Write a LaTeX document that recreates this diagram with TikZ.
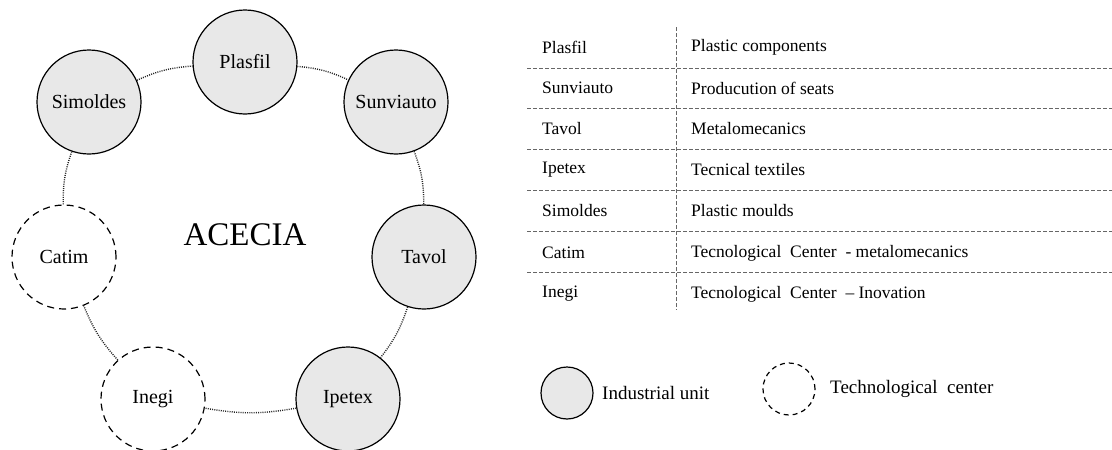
\documentclass[tikz,border=0pt]{standalone}
\usepackage{fontspec}
\setmainfont{Liberation Serif}
\begin{document}
\begin{tikzpicture}[x=1pt,y=-1pt,
  unit/.style={circle,draw=black,line width=1.2pt,fill=gray!18,minimum size=104pt,inner sep=0pt,font=\fontsize{20}{24}\selectfont},
  tech/.style={circle,draw=black,line width=1.2pt,dash pattern=on 7pt off 5pt,minimum size=104pt,inner sep=0pt,font=\fontsize{20}{24}\selectfont},
  link/.style={line width=1.4pt,dash pattern=on 1pt off 1.2pt,draw=black!85},
  rowtxt/.style={anchor=west,inner sep=0pt,font=\fontsize{17.5}{20}\selectfont},
  sep/.style={draw=gray!80!black,line width=1pt,dash pattern=on 4pt off 2pt},
  lunit/.style={circle,draw=black,line width=1.2pt,fill=gray!18,minimum size=52pt,inner sep=0pt},
  ltech/.style={circle,draw=black,line width=1.2pt,dash pattern=on 5pt off 4pt,minimum size=52pt,inner sep=0pt},
  ltxt/.style={anchor=west,inner sep=0pt,font=\fontsize{19}{22}\selectfont}]
\useasboundingbox (0,0) rectangle (1112,450);
% circle nodes
\node[unit] (plasfil) at (245,62) {Plasfil};
\node[unit] (sunviauto) at (396,102) {Sunviauto};
\node[unit] (tavol) at (424,257) {Tavol};
\node[unit] (ipetex) at (348,399) {Ipetex};
\node[tech] (inegi) at (153,399) {Inegi};
\node[tech] (catim) at (64,257) {Catim};
\node[unit] (simoldes) at (89,102) {Simoldes};
\node[font=\fontsize{33}{38}\selectfont] (acecia) at (245,235) {ACECIA};
% connectors
\draw[link] (plasfil) to[bend left=10] (sunviauto);
\draw[link] (sunviauto) to[bend left=10] (tavol);
\draw[link] (tavol) to[bend left=10] (ipetex);
\draw[link] (ipetex) to[bend left=10] (inegi);
\draw[link] (inegi) to[bend left=10] (catim);
\draw[link] (catim) to[bend left=10] (simoldes);
\draw[link] (simoldes) to[bend left=10] (plasfil);
% table
\coordinate (vtop) at (676,27);
\coordinate (vbot) at (676,310);
\draw[sep] (vtop) -- (vbot);
\foreach \yy/\nm in {68/h1,108/h2,149/h3,190/h4,231/h5,272/h6}{
  \coordinate (\nm a) at (527,\yy);
  \coordinate (\nm b) at (1112,\yy);
  \draw[sep] (\nm a) -- (\nm b);
}
\node[rowtxt] (t1a) at (542,47) {Plasfil};
\node[rowtxt] (t1b) at (691,47) {Plastic components};
\node[rowtxt] (t2a) at (542,88) {Sunviauto};
\node[rowtxt] (t2b) at (691,88) {Producution of seats};
\node[rowtxt] (t3a) at (542,129) {Tavol};
\node[rowtxt] (t3b) at (691,129) {Metalomecanics};
\node[rowtxt] (t4a) at (542,170) {Ipetex};
\node[rowtxt] (t4b) at (691,170) {Tecnical textiles};
\node[rowtxt] (t5a) at (542,211) {Simoldes};
\node[rowtxt] (t5b) at (691,211) {Plastic moulds};
\node[rowtxt] (t6a) at (542,253) {Catim};
\node[rowtxt] (t6b) at (691,253) {Tecnological\ \ Center\ \ -\ metalomecanics};
\node[rowtxt] (t7a) at (542,294) {Inegi};
\node[rowtxt] (t7b) at (691,294) {Tecnological\ \ Center\ \ -- Inovation};
% legend
\node[lunit] (lu) at (567,393) {};
\node[ltxt] (lut) at (602,393) {Industrial unit};
\node[ltech] (lt) at (789,389) {};
\node[ltxt] (ltt) at (830,389) {Technological\hspace{0.5em}center};
\end{tikzpicture}
\end{document}
